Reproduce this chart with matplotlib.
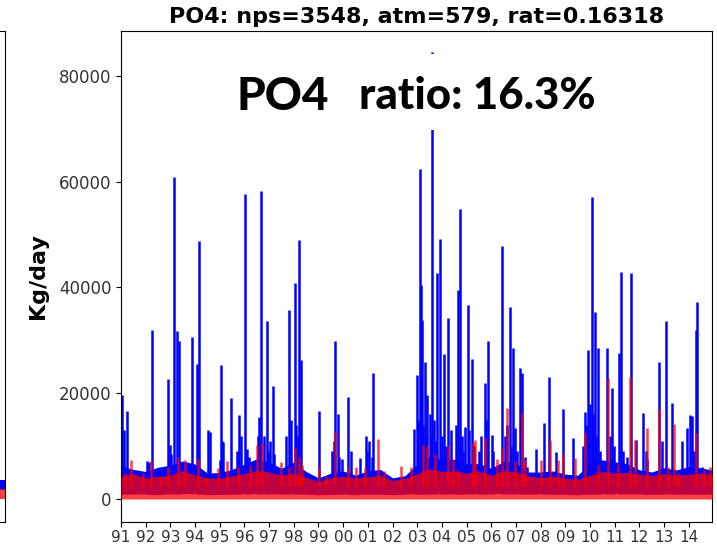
import numpy as np
import matplotlib.pyplot as plt
from matplotlib.patches import Rectangle

# daily loads drawn as a low-flow band (half-year samples) plus storm spikes
band_t = np.arange(1991.0, 2015.01, 0.5)
nps_lo = [1000, 900, 1000, 800, 1100, 1000, 1100, 800, 900, 900, 1100, 1000, 1200, 900, 1100, 900, 800,
          900, 1000, 800, 1000, 900, 800, 900, 1100, 1200, 1200, 1000, 1100, 1000, 1000, 1100, 1100, 900,
          1000, 900, 900, 800, 1000, 1000, 1100, 1000, 1000, 900, 1000, 900, 1000, 900, 1000]
nps_hi = [6200, 5600, 5200, 6000, 6400, 7200, 6600, 4900, 5000, 5600, 6600, 7600, 7000, 5800, 7000, 5200, 4000,
          4900, 5300, 4500, 5300, 5600, 4000, 4400, 6600, 8000, 7400, 7500, 6600, 6700, 5800, 7100, 6700, 5100,
          5100, 5300, 4700, 4500, 6800, 7400, 7000, 6700, 5500, 5100, 5900, 5500, 6100, 5900, 5400]
atm_hi = [4300, 4800, 3900, 4300, 4500, 5400, 4500, 4000, 3900, 4400, 4800, 5400, 5100, 4500, 4900, 4100, 3300,
          4000, 4300, 3900, 4200, 4500, 3500, 3900, 4800, 5700, 5200, 5300, 4900, 5300, 4500, 5400, 5100, 4400,
          4000, 4300, 3900, 3700, 4500, 5200, 4900, 5000, 4700, 4400, 4800, 4500, 4700, 4900, 4500]

nps_spike_t = [1991.03, 1991.12, 1991.23, 1992.05, 1992.15, 1992.27, 1992.91, 1992.98, 1993.02, 1993.16, 1993.25,
               1993.33, 1993.86, 1994.09, 1994.17, 1994.52, 1994.60, 1995.00, 1995.04, 1995.10, 1995.14, 1995.45,
               1995.70, 1995.78, 1995.85, 1996.02, 1996.10, 1996.20, 1996.55, 1996.60, 1996.66, 1996.80, 1996.90,
               1996.95, 1997.05, 1997.14, 1997.20, 1997.70, 1997.80, 1997.90, 1998.04, 1998.10, 1998.15, 1998.21,
               1998.28, 1999.03, 1999.55, 1999.62, 1999.68, 1999.77, 1999.85, 1999.95, 2000.20, 2000.33, 2000.70,
               2000.92, 2000.97, 2001.05, 2001.15, 2001.21, 2002.86, 2002.97, 2003.05, 2003.10, 2003.16, 2003.19,
               2003.25, 2003.30, 2003.35, 2003.40, 2003.50, 2003.55, 2003.61, 2003.67, 2003.75, 2003.81, 2003.91,
               2004.00, 2004.09, 2004.15, 2004.25, 2004.35, 2004.55, 2004.65, 2004.72, 2004.80, 2004.85, 2004.93,
               2005.04, 2005.10, 2005.22, 2005.30, 2005.50, 2005.60, 2005.74, 2005.80, 2005.87, 2006.01, 2006.05,
               2006.45, 2006.55, 2006.65, 2006.75, 2006.80, 2006.86, 2006.95, 2007.05, 2007.15, 2007.26, 2007.35,
               2007.45, 2007.80, 2008.13, 2008.34, 2008.64, 2008.91, 2009.31, 2009.70, 2009.79, 2009.85, 2009.92,
               2010.00, 2010.06, 2010.12, 2010.19, 2010.25, 2010.32, 2010.40, 2010.69, 2010.80, 2010.90, 2010.95,
               2011.16, 2011.27, 2011.35, 2011.50, 2011.67, 2011.87, 2012.15, 2012.25, 2012.32, 2012.79, 2012.90,
               2013.06, 2013.33, 2013.74, 2013.93, 2014.04, 2014.11, 2014.20, 2014.28, 2014.35, 2014.55, 2014.70,
               2014.85]
nps_spike_v = [19700, 13000, 16600, 7200, 7000, 32000, 22700, 10200, 8500, 60800, 31700,
               29800, 30700, 25500, 48800, 13000, 12700, 7400, 25400, 10900, 10800, 19100,
               9000, 15900, 12000, 57600, 9500, 8000, 12000, 15600, 58300, 12000, 33700,
               9000, 11000, 21400, 8500, 12000, 35800, 15000, 40900, 14000, 12000, 49000,
               26300, 16700, 9000, 11000, 29900, 16100, 8000, 7500, 19200, 9000, 7800,
               11900, 9000, 11000, 8000, 23900, 13200, 23500, 15000, 62400, 40500, 33900,
               14000, 26000, 12000, 19700, 16000, 12000, 84500, 15000, 11000, 42800, 49200,
               12000, 27400, 10000, 34200, 13000, 14000, 39500, 54900, 12000, 9000, 13700,
               36700, 13000, 26500, 10000, 9000, 12000, 21900, 15000, 29900, 12100, 9000,
               47900, 12000, 14000, 36300, 10000, 28500, 13400, 9000, 24700, 23800, 8000,
               6000, 9400, 14400, 23100, 8800, 17000, 11500, 10000, 16500, 14000, 28200,
               18000, 57200, 16000, 35400, 12000, 28500, 9000, 28500, 12000, 20900, 10000,
               27600, 43000, 9000, 8000, 42800, 11200, 16300, 9000, 7500, 26000, 10900,
               33700, 18100, 11000, 13400, 15900, 15700, 9000, 32000, 37300, 6000, 5500,
               4900]

atm_spike_t = [1991.15, 1991.42, 1991.89, 1992.23, 1992.63, 1992.90, 1993.31, 1993.58, 1994.12, 1994.45, 1994.93,
               1995.30, 1995.74, 1996.21, 1996.50, 1996.72, 1997.48, 1997.80, 1998.03, 1998.23, 1998.35, 1999.04,
               1999.31, 1999.67, 2000.19, 2000.50, 2000.87, 2001.41, 2001.67, 2002.33, 2002.73, 2003.24, 2003.38,
               2003.71, 2004.25, 2004.45, 2004.66, 2005.26, 2005.35, 2005.74, 2006.24, 2006.42, 2006.62, 2006.95,
               2007.26, 2007.36, 2008.03, 2008.37, 2008.71, 2008.91, 2009.38, 2009.81, 2010.33, 2010.73, 2011.14,
               2011.61, 2011.81, 2012.30, 2012.79, 2013.16, 2013.40, 2013.57, 2014.31, 2014.62, 2014.85]
atm_spike_v = [4900, 7400, 4900, 7200, 4200, 6100, 8000, 7400, 7600, 4000, 5800,
               7100, 6100, 6500, 10300, 10600, 7000, 6100, 9600, 8000, 6400, 6100,
               4300, 12700, 6100, 6100, 5800, 11300, 5200, 6300, 6100, 10200, 10000,
               8600, 10000, 7600, 5500, 10500, 11200, 11500, 7600, 9700, 17200, 7100,
               16200, 7400, 7400, 11200, 7400, 8600, 7700, 12400, 6400, 22800, 6700,
               23100, 11200, 13400, 17000, 6100, 14200, 4900, 12400, 5500, 6000]

# neighbouring panel, only its right edge is visible
left_t = [0.96, 1.0]
left_nps_lo = [1700, 1700]
left_nps_hi = [3600, 3600]
left_atm_hi = [1800, 1800]

years = list(range(1991, 2015))
year_lbl = [f"{y % 100:02d}" for y in years]

RED_A = 0.75
fig = plt.figure(figsize=(7.17, 5.47), dpi=100)

ax0 = fig.add_axes([-0.5, 1 - 522 / 547, 0.5 + 5 / 717, 491 / 547])
ax0.fill_between(left_t, left_nps_lo, left_nps_hi, color='blue', lw=0)
ax0.fill_between(left_t, 0, left_atm_hi, color='red', alpha=RED_A, lw=0)
ax0.set_xlim(0, 1); ax0.set_ylim(-4350, 88500)
ax0.set_xticks([]); ax0.set_yticks([])

ax = fig.add_axes([121 / 717, 1 - 522 / 547, 591 / 717, 491 / 547])
ax.fill_between(band_t, nps_lo, nps_hi, color='blue', lw=0, zorder=2)
ax.vlines(nps_spike_t, 1000, nps_spike_v, color='blue', lw=1.8, zorder=2)
ax.fill_between(band_t, 0, atm_hi, color='red', alpha=RED_A, lw=0, zorder=3)
ax.vlines(atm_spike_t, 2500, atm_spike_v, color='red', alpha=RED_A, lw=1.8, zorder=3)

ax.set_xlim(1991, 2014.94)
ax.set_ylim(-4350, 88500)
ax.set_xticks(years, year_lbl)
ax.set_yticks([0, 20000, 40000, 60000, 80000])
ax.tick_params(axis='y', labelsize=12, labelcolor='#333333')
ax.tick_params(axis='x', labelsize=11, labelcolor='#333333', pad=2.5)
ax.set_ylabel('Kg/day', fontsize=16, fontweight='bold', labelpad=8)
ax.set_title('PO4: nps=3548, atm=579, rat=0.16318', fontsize=16, fontweight='bold', pad=6)

# slide overlay: white text box with large label
fig.add_artist(Rectangle((225 / 717, 1 - 130 / 547), 390 / 717, 76 / 547, transform=fig.transFigure,
                         facecolor='white', edgecolor='none', zorder=2))
fig.text(237 / 717, 1 - 110 / 547, 'PO4', family='Lato', fontweight='black', fontsize=33, va='baseline', zorder=3)
fig.text(359 / 717, 1 - 108.5 / 547, 'ratio: 16.3%', family='Lato', fontweight='black', fontsize=31.5,
         va='baseline', zorder=3)

fig.savefig('out.png', dpi=100)
